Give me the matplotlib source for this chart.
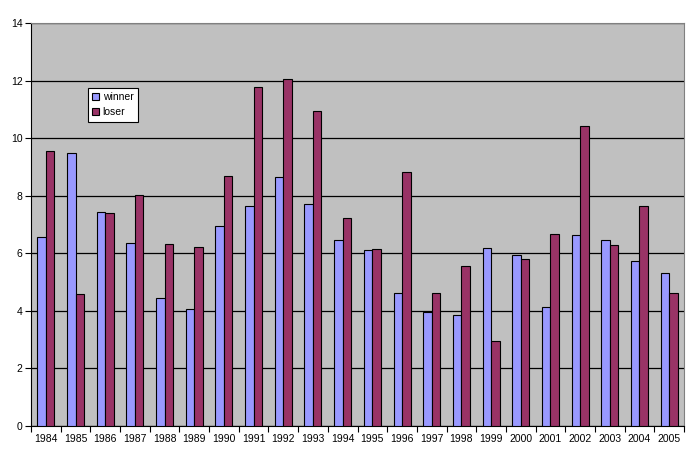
import matplotlib
matplotlib.use("Agg")
import matplotlib.pyplot as plt
import numpy as np

years = ["1984", "1985", "1986", "1987", "1988", "1989", "1990", "1991", "1992", "1993", "1994",
         "1995", "1996", "1997", "1998", "1999", "2000", "2001", "2002", "2003", "2004", "2005"]
winner = [6.56, 9.49, 7.43, 6.35, 4.46, 4.08, 6.94, 7.65, 8.66, 7.71, 6.45,
          6.11, 4.63, 3.97, 3.84, 6.19, 5.93, 4.13, 6.63, 6.45, 5.72, 5.33]
loser = [9.54, 4.58, 7.39, 8.02, 6.33, 6.23, 8.69, 11.76, 12.07, 10.96, 7.22,
         6.14, 8.83, 4.63, 5.55, 2.97, 5.79, 6.66, 10.42, 6.30, 7.65, 4.63]
yticks = [0, 2, 4, 6, 8, 10, 12, 14]

plt.rcParams['font.family'] = ['Liberation Sans', 'DejaVu Sans']

fig = plt.figure(figsize=(7.0, 4.63), dpi=100)
ax = fig.add_axes([31/700, 1 - 426/463, (684 - 31)/700, (426 - 23)/463])
ax.set_facecolor('#C0C0C0')

x = np.arange(len(years))
w = 1/3.5
ax.bar(x - w/2, winner, w, color='#9999FF', edgecolor='black', linewidth=0.8, label='winner', zorder=3)
ax.bar(x + w/2, loser, w, color='#993366', edgecolor='black', linewidth=0.8, label='loser', zorder=3)

ax.set_xlim(-0.5, len(years) - 0.5)
ax.set_ylim(0, 14)
ax.set_yticks(yticks)
ax.set_yticklabels([str(v) for v in yticks], fontsize=7.5)
ax.yaxis.grid(True, color='black', linewidth=0.9, zorder=1)
ax.set_axisbelow(True)

ax.set_xticks(x)
ax.set_xticklabels(years, fontsize=7.5)
ax.set_xticks(np.arange(-0.5, len(years)), minor=True)
ax.tick_params(axis='x', which='major', length=0, pad=6)
ax.tick_params(axis='x', which='minor', length=4, direction='out', color='black', width=0.8)
ax.tick_params(axis='y', length=4, direction='out', color='black', width=0.8, pad=2)

for s in ['top', 'right']:
    ax.spines[s].set_color('#808080')
    ax.spines[s].set_linewidth(0.8)
for s in ['left', 'bottom']:
    ax.spines[s].set_color('black')
    ax.spines[s].set_linewidth(0.8)

leg = ax.legend(loc='upper left', bbox_to_anchor=((88 - 31)/653, (426 - 88)/403),
                fontsize=7.5, frameon=True, fancybox=False, framealpha=1,
                edgecolor='black', handlelength=0.7, handleheight=0.7,
                handletextpad=0.3, borderpad=0.4, labelspacing=0.5, borderaxespad=0)
leg.get_frame().set_linewidth(0.8)

fig.savefig('out.png', dpi=100)
